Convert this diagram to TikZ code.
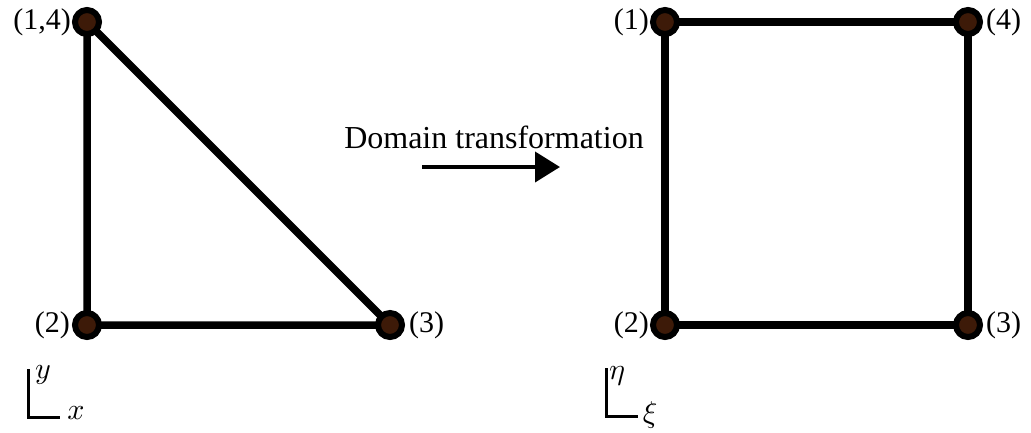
\documentclass[tikz,border=0pt]{standalone}
\usepackage{graphicx}
\usepackage{fontspec}
\setmainfont{Liberation Serif}
\usetikzlibrary{arrows.meta}
\definecolor{dotfill}{RGB}{61,26,8}
\newcommand{\bigmath}[1]{\scalebox{3.0}{$#1$}}
\tikzset{
  edge/.style={line width=7.5pt, line cap=round},
  vtx/.style={circle, draw=black, fill=dotfill, line width=6pt, minimum size=24pt, inner sep=0pt},
  lbl/.style={font=\fontsize{30}{34}\selectfont, inner sep=0pt},
  axis/.style={line width=3pt},
  axlbl/.style={inner sep=0pt},
}
\begin{document}
\begin{tikzpicture}[x=1pt,y=-1pt]
\useasboundingbox (0,0) rectangle (1031,432);
% triangle
\coordinate (a) at (87,22);
\coordinate (b) at (87,325);
\coordinate (c) at (390,325);
% square
\coordinate (p) at (665,22);
\coordinate (q) at (968,22);
\coordinate (r) at (665,325);
\coordinate (s) at (968,325);
\draw[edge] (a) -- (b) -- (c) -- cycle;
\draw[edge] (p) -- (q) -- (s) -- (r) -- cycle;
\foreach \n in {a,b,c,p,q,r,s} \node[vtx] (v\n) at (\n) {};
% labels
\node[lbl, anchor=east] (la) at (71,22) {(1,4)};
\node[lbl, anchor=east] (lb) at (70,325) {(2)};
\node[lbl, anchor=west] (lc) at (409,325) {(3)};
\node[lbl, anchor=east] (lp) at (649,22) {(1)};
\node[lbl, anchor=west] (lq) at (986,22) {(4)};
\node[lbl, anchor=east] (lr) at (649,325) {(2)};
\node[lbl, anchor=west] (ls) at (986,325) {(3)};
% arrow
\node[font=\fontsize{32}{36}\selectfont, inner sep=0pt, anchor=base] (dt) at (494,148) {Domain transformation};
\coordinate (arS) at (422,167);
\coordinate (arE) at (560,167);
\draw[line width=4pt, -{Triangle[length=25pt,width=30pt]}] (arS) -- (arE);
% axes
\coordinate (ly) at (28,369);
\coordinate (lo) at (28,417);
\coordinate (lx) at (60,417);
\draw[axis] (ly) -- (lo) -- (lx);
\node[axlbl] (ylab) at (43,375) {\bigmath{y}};
\node[axlbl] (xlab) at (76,413) {\bigmath{x}};
\coordinate (ry) at (606,368);
\coordinate (ro) at (606,416);
\coordinate (rx) at (638,416);
\draw[axis] (ry) -- (ro) -- (rx);
\node[axlbl] (etalab) at (617,376) {\bigmath{\eta}};
\node[axlbl] (xilab) at (650,415) {\bigmath{\xi}};
\end{tikzpicture}
\end{document}
